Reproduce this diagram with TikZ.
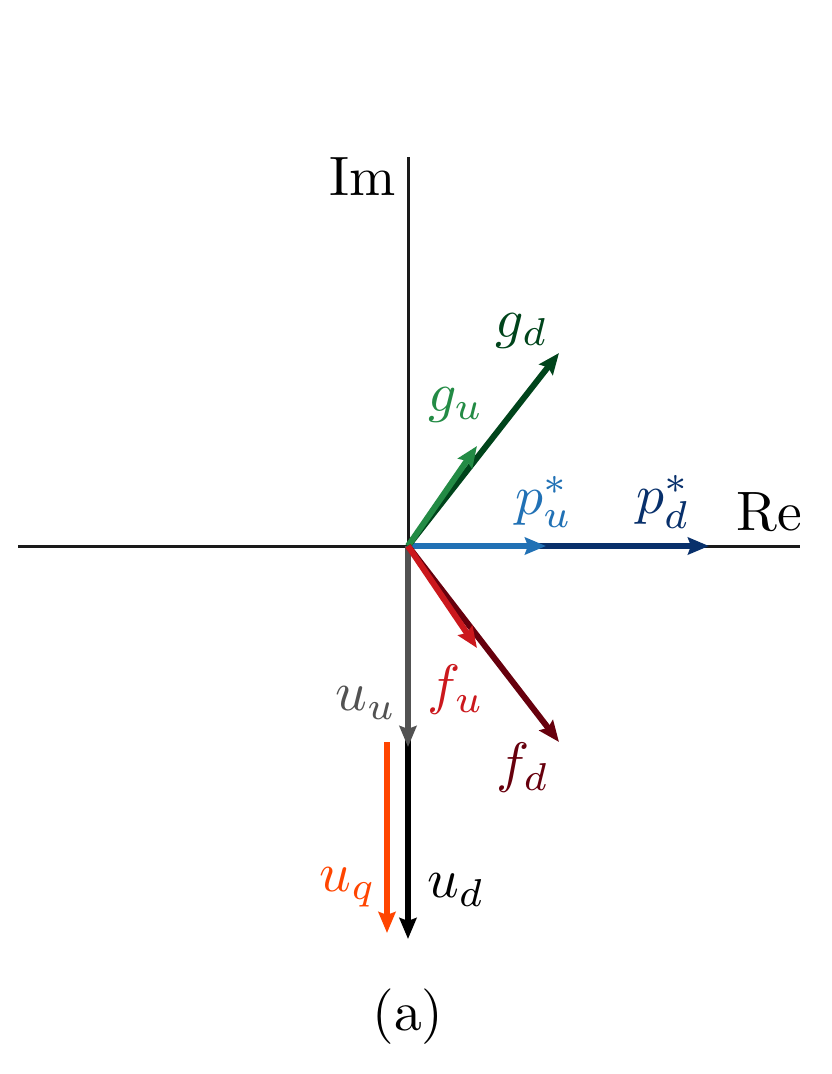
\documentclass[tikz,border=0pt]{standalone}
\usetikzlibrary{arrows.meta}
\definecolor{pu}{HTML}{2171B5}
\definecolor{pd}{HTML}{08306B}
\definecolor{gu}{HTML}{238B45}
\definecolor{gd}{HTML}{00441B}
\definecolor{fu}{HTML}{CB181D}
\definecolor{fd}{HTML}{67000D}
\definecolor{uu}{HTML}{525252}
\definecolor{ud}{HTML}{000000}
\definecolor{uq}{HTML}{FF4500}
\definecolor{axc}{HTML}{1A1A1A}
\newcommand{\bigtxt}[1]{\scalebox{5.55}{#1}}
\begin{document}
\begin{tikzpicture}[x=1pt,y=-1pt,
  axisline/.style={draw=axc,line width=3pt},
  vec/.style={line width=6pt,-{Stealth[length=21pt,width=17pt,inset=3pt]}},
  lbl/.style={inner sep=0pt}]
\useasboundingbox (0,0) rectangle (832,1074);
\coordinate (O) at (408,546);
\coordinate (ReL) at (18,546);
\coordinate (ReR) at (800,546);
\coordinate (ImT) at (408,157);
\coordinate (PU) at (546,546);
\coordinate (PD) at (709,546);
\coordinate (GU) at (477,446);
\coordinate (GD) at (559,353);
\coordinate (FU) at (477,648);
\coordinate (FD) at (559,742);
\coordinate (UU) at (408,747);
\coordinate (UD) at (408,939);
\coordinate (UQs) at (387,742);
\coordinate (UQ) at (387,933);
\draw[axisline] (ReL) -- (ReR);
\draw[axisline] (ImT) -- (O);
\draw[vec,ud] (O) -- (UD);
\draw[vec,uu] (O) -- (UU);
\draw[vec,uq] (UQs) -- (UQ);
\draw[vec,pd] (O) -- (PD);
\draw[vec,pu] (O) -- (PU);
\draw[vec,gd] (O) -- (GD);
\draw[vec,gu] (O) -- (GU);
\draw[vec,fd] (O) -- (FD);
\draw[vec,fu] (O) -- (FU);
\node[lbl,anchor=base east] (Im) at (396,195) {\bigtxt{Im}};
\node[lbl,anchor=base west] (Re) at (736,530) {\bigtxt{Re}};
\node[lbl,text=gd] (lgd) at (522,331) {\bigtxt{$g_d$}};
\node[lbl,text=gu] (lgu) at (456,405) {\bigtxt{$g_u$}};
\node[lbl,text=pu] (lpu) at (544,502) {\bigtxt{$p_u^*$}};
\node[lbl,text=pd] (lpd) at (663,502) {\bigtxt{$p_d^*$}};
\node[lbl,text=fu] (lfu) at (456,690) {\bigtxt{$f_u$}};
\node[lbl,text=fd] (lfd) at (523,768) {\bigtxt{$f_d$}};
\node[lbl,text=uu] (luu) at (366,703) {\bigtxt{$u_u$}};
\node[lbl,text=uq] (luq) at (348,887) {\bigtxt{$u_q$}};
\node[lbl,text=ud] (lud) at (456,890) {\bigtxt{$u_d$}};
\node[lbl] (cap) at (408,1017) {\bigtxt{(a)}};
\end{tikzpicture}
\end{document}
